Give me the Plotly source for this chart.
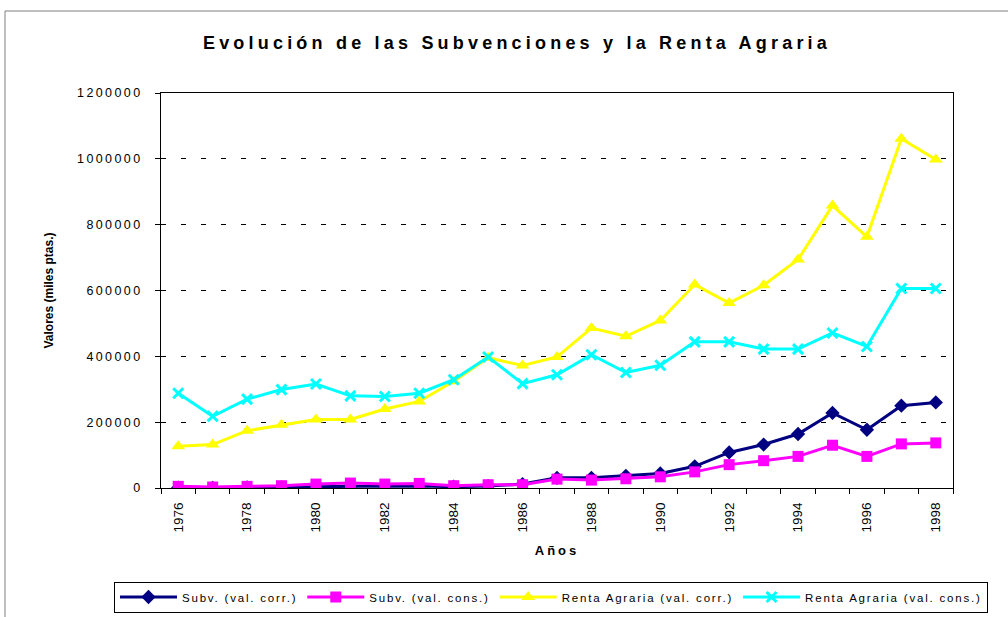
import plotly.graph_objects as go

years = ["1976", "1977", "1978", "1979", "1980", "1981", "1982", "1983", "1984", "1985", "1986",
         "1987", "1988", "1989", "1990", "1991", "1992", "1993", "1994", "1995", "1996", "1997", "1998"]
year_labels = ["1976", "", "1978", "", "1980", "", "1982", "", "1984", "", "1986",
               "", "1988", "", "1990", "", "1992", "", "1994", "", "1996", "", "1998"]

subv_corr = [1000, 500, 1500, 2000, 4000, 5000, 5000, 6000, 4000, 6000, 12000,
             31000, 31000, 37000, 44000, 66000, 108000, 132000, 164000, 228000, 177000, 250000, 260000]
subv_cons = [5000, 3000, 5000, 7000, 12000, 15000, 12000, 14000, 7000, 10000, 10000,
             27000, 24000, 28000, 34000, 49000, 71000, 83000, 96000, 130000, 96000, 134000, 137000]
renta_corr = [127000, 132000, 174000, 192000, 208000, 208000, 240000, 263000, 324000, 396000, 372000,
              398000, 486000, 461000, 509000, 618000, 562000, 616000, 694000, 858000, 763000, 1061000, 998000]
renta_cons = [288000, 218000, 270000, 299000, 316000, 280000, 278000, 288000, 329000, 398000, 317000,
              344000, 405000, 351000, 373000, 444000, 444000, 422000, 422000, 471000, 430000, 606000, 606000]

series_names = ["Subv. (val. corr.)", "Subv. (val. cons.)",
                "Renta Agraria (val. corr.)", "Renta Agraria (val. cons.)"]
y_tickvals = [0, 200000, 400000, 600000, 800000, 1000000, 1200000]
y_ticktext = ["0", "200000", "400000", "600000", "800000", "1000000", "1200000"]

title_text = "Evolución de las Subvenciones y la Renta Agraria"
x_title = "Años"
y_title = "Valores (miles ptas.)"

FONT = "Arial, Liberation Sans, sans-serif"


def spaced(t, px):
    return f"<span style='letter-spacing:{px}px'>{t}</span>"


series = [
    (subv_corr, "#000080", "diamond", 11, 0),
    (subv_cons, "#FF00FF", "square", 11, 0),
    (renta_corr, "#FFFF00", "triangle-up", 12, 0),
    (renta_cons, "#00FFFF", "x-thin", 10, 3),
]

fig = go.Figure()
for (vals, color, sym, size, lw), name in zip(series, series_names):
    fig.add_trace(go.Scatter(
        x=years, y=vals, mode="lines+markers", name=spaced(name, 1.8),
        line=dict(color=color, width=3),
        marker=dict(symbol=sym, size=size, color=color,
                    line=dict(color=color, width=lw)),
    ))

# outer chart-area border (extends past the right/bottom edge like the reference)
fig.add_shape(type="rect", xref="paper", yref="paper",
              x0=(5 - 161) / 792, x1=(1040 - 161) / 792,
              y0=(488 - 650) / 395, y1=(488 - 11) / 395,
              line=dict(color="#808080", width=1), layer="below")

fig.update_layout(
    width=1008, height=617,
    margin=dict(l=161, r=55, t=93, b=129, autoexpand=False),
    paper_bgcolor="white", plot_bgcolor="white",
    font=dict(family=FONT, color="black"),
    title=dict(text="<b>" + spaced(title_text, 4.2) + "</b>",
               x=517 / 1008, xref="container", xanchor="center",
               y=1 - 43 / 617, yref="container", yanchor="middle",
               font=dict(size=18, family=FONT, color="black")),
    showlegend=True,
    legend=dict(orientation="h", xref="paper", yref="paper",
                x=(114 - 161) / 792, xanchor="left",
                y=(488 - 597) / 395, yanchor="middle",
                bordercolor="black", borderwidth=1, bgcolor="white",
                font=dict(size=11.5, family=FONT, color="black"),
                itemwidth=57, itemsizing="trace", traceorder="normal"),
    xaxis=dict(
        type="category", tickmode="array", tickvals=years, ticktext=year_labels,
        tickson="boundaries", ticks="outside", ticklen=5, tickcolor="black",
        tickangle=-90, tickfont=dict(size=13.5, family=FONT, color="black"),
        ticklabelstandoff=8,
        showline=True, linecolor="black", linewidth=1, mirror=True,
        showgrid=False, zeroline=False,
        range=[-0.5, 22.5],
        title=dict(text="<b>" + spaced(x_title, 3) + "</b>",
                   font=dict(size=13, family=FONT, color="black"), standoff=14),
    ),
    yaxis=dict(
        range=[0, 1200000], tickmode="array", tickvals=y_tickvals,
        ticktext=[spaced(t, 2.4) for t in y_ticktext],
        ticks="outside", ticklen=5, tickcolor="black",
        tickfont=dict(size=12.5, family=FONT, color="black"),
        ticklabelstandoff=10,
        showline=True, linecolor="black", linewidth=1, mirror=True,
        showgrid=True, gridcolor="black", gridwidth=1, griddash="5px,15px",
        zeroline=False,
        title=dict(text="<b>" + y_title + "</b>",
                   font=dict(size=12, family=FONT, color="black"), standoff=20),
    ),
)

fig.write_html("out.html", config={"displayModeBar": False},
               post_script="document.body.style.margin='0';document.body.style.padding='0';")
